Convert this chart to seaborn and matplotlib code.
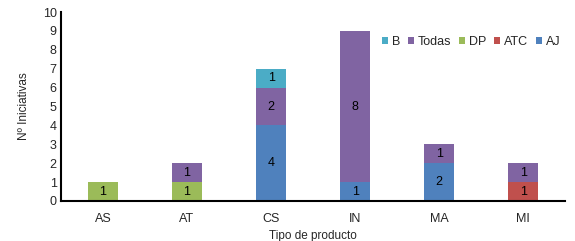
import matplotlib.pyplot as plt
import numpy as np
import pandas as pd
import seaborn as sns

sns.set_style("white")
plt.rcParams["font.family"] = ["Liberation Sans", "DejaVu Sans"]

productos = ["AS", "AT", "CS", "IN", "MA", "MI"]
aj = [0, 0, 4, 1, 2, 0]
atc = [0, 0, 0, 0, 0, 1]
dp = [1, 1, 0, 0, 0, 0]
todas = [0, 1, 2, 8, 1, 1]
b = [0, 0, 1, 0, 0, 0]

series = [("AJ", aj, "#4F81BD"), ("ATC", atc, "#C0504D"), ("DP", dp, "#9BBB59"),
          ("Todas", todas, "#8064A2"), ("B", b, "#4BACC6")]

fig, ax = plt.subplots(figsize=(5.75, 2.41), dpi=100)

cum = np.zeros(len(productos))
layers = []
for name, vals, color in series:
    vals = np.array(vals, dtype=float)
    layers.append((name, vals, cum.copy(), cum + vals, color))
    cum = cum + vals

# draw tallest cumulative first so lower segments sit on top
for name, vals, bottom, top, color in reversed(layers):
    df = pd.DataFrame({"producto": productos, "valor": top})
    sns.barplot(data=df, x="producto", y="valor", color=color, width=0.35,
                saturation=1, ax=ax, label=name, linewidth=0)

for name, vals, bottom, top, color in layers:
    for i, v in enumerate(vals):
        if v > 0:
            ax.text(i, bottom[i] + v / 2, f"{int(v)}", ha="center", va="center",
                    fontsize=9, color="black")

ax.set_ylim(0, 10)
ax.set_yticks(range(0, 11))
ax.set_xlim(-0.5, 5.5)
ax.set_xlabel("Tipo de producto", fontsize=8.5, labelpad=3)
ax.set_ylabel("Nº Iniciativas", fontsize=8.5, labelpad=9)
ax.tick_params(axis="both", labelsize=9, length=0, pad=3)
ax.tick_params(axis="x", pad=9)

for s in ["top", "right"]:
    ax.spines[s].set_visible(False)
for s in ["left", "bottom"]:
    ax.spines[s].set_color("black")
    ax.spines[s].set_linewidth(1.5)

ax.legend(loc="upper right", bbox_to_anchor=(1.0, 0.9), ncol=5, frameon=False,
          fontsize=9, handlelength=0.5, handleheight=0.5, handletextpad=0.3,
          columnspacing=0.6, borderaxespad=0)

fig.subplots_adjust(left=0.106, right=0.983, top=0.95, bottom=0.166)
fig.savefig("out.png", dpi=100)
plt.close()
